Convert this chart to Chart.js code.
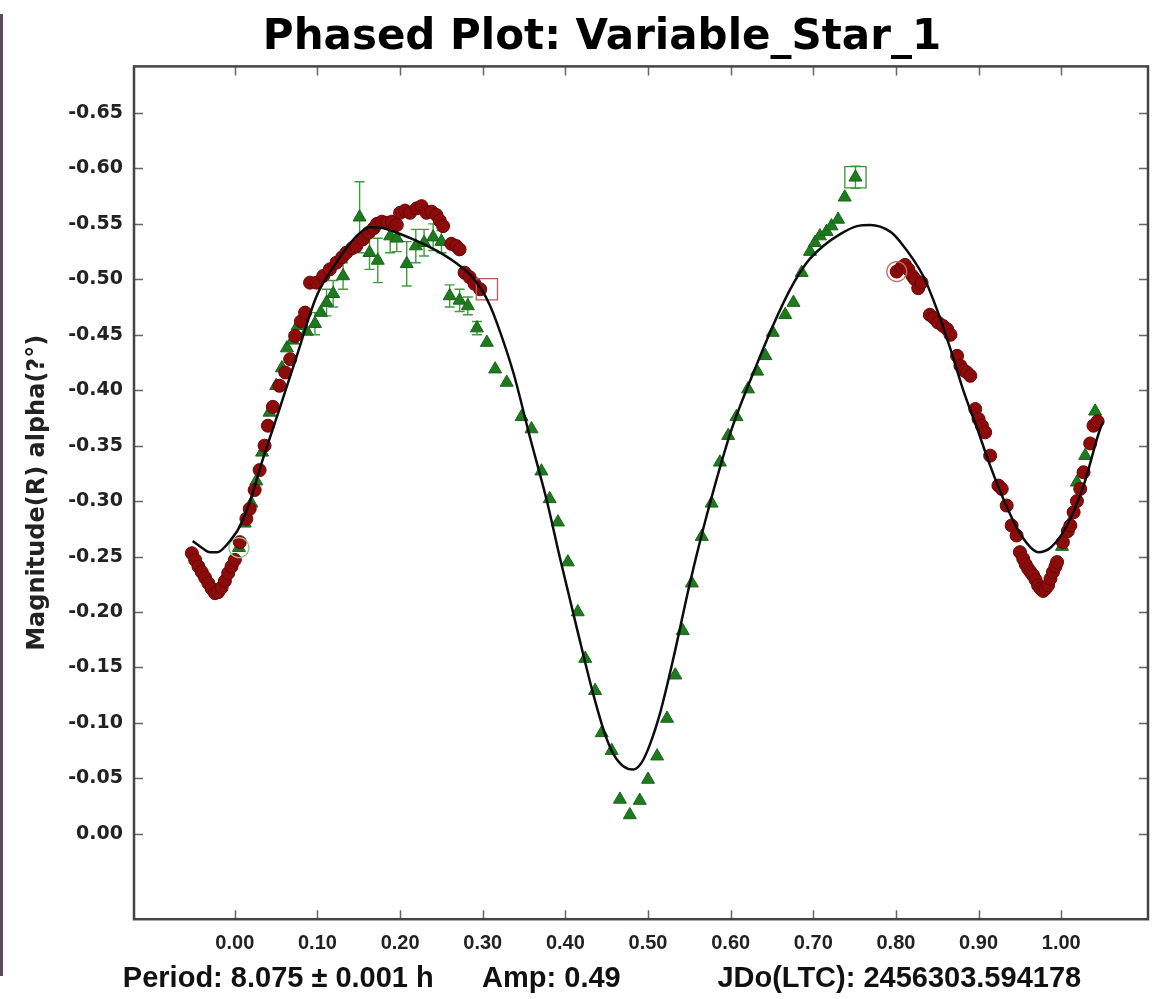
<!DOCTYPE html>
<html>
<head>
<meta charset="utf-8">
<title>Phased Plot: Variable_Star_1</title>
<script src="https://cdn.jsdelivr.net/npm/chart.js"></script>
<style>
  html, body { margin: 0; padding: 0; background: #fff; }
  #wrap { position: relative; width: 1173px; height: 999px; }
  #edge { position: absolute; left: 0; top: 14px; width: 3px; height: 962px; background: #5e4a56; }
  canvas { display: block; }
</style>
</head>
<body>
<div id="wrap">
  <canvas id="phaseChart" width="1173" height="999"></canvas>
  <div id="edge"></div>
</div>
<script>
/* ==============================
   DATA (phase / magnitude)
============================== */
const xTicks = [0, 0.1, 0.2, 0.3, 0.4, 0.5, 0.6, 0.7, 0.8, 0.9, 1.0];
const yTicks = [-0.65, -0.6, -0.55, -0.5, -0.45, -0.4, -0.35, -0.3, -0.25, -0.2, -0.15, -0.1, -0.05, 0];

// session 1 (red circles)
const redPhase = [
  -0.052, -0.048, -0.044, -0.040, -0.036, -0.032, -0.028, -0.024, -0.020, -0.016,
  -0.012, -0.008, -0.004, 0.000, 0.006, 0.014, 0.018, 0.024, 0.030, 0.036,
  0.040, 0.046, 0.054, 0.061, 0.067, 0.073, 0.080, 0.085, 0.091, 0.099,
  0.107, 0.115, 0.123, 0.130, 0.135, 0.142, 0.147, 0.155, 0.162, 0.168,
  0.172, 0.178, 0.184, 0.190, 0.196, 0.200, 0.206, 0.212, 0.220, 0.226,
  0.232, 0.238, 0.244, 0.248, 0.252, 0.262, 0.268, 0.272, 0.278, 0.284,
  0.290, 0.297,
  0.801, 0.807, 0.811, 0.815, 0.820, 0.823, 0.827, 0.831, 0.841, 0.846,
  0.851, 0.857, 0.862, 0.866, 0.874, 0.878, 0.882, 0.886, 0.890, 0.896,
  0.900, 0.904, 0.908, 0.914, 0.924, 0.928, 0.934, 0.940, 0.946, 0.950,
  0.954, 0.957, 0.960, 0.963, 0.966, 0.969, 0.972, 0.975, 0.978, 0.981,
  0.984, 0.987, 0.990, 0.993, 0.995, 1.002, 1.008, 1.011, 1.015, 1.019,
  1.023, 1.027, 1.035, 1.039, 1.044
];
const redMag = [
  -0.253, -0.247, -0.241, -0.236, -0.231, -0.226, -0.221, -0.217, -0.218, -0.222,
  -0.228, -0.235, -0.241, -0.247, -0.263, -0.284, -0.293, -0.310, -0.328, -0.350,
  -0.368, -0.385, -0.404, -0.416, -0.428, -0.449, -0.462, -0.470, -0.497, -0.497,
  -0.503, -0.509, -0.515, -0.520, -0.524, -0.528, -0.530, -0.536, -0.542, -0.546,
  -0.550, -0.552, -0.551, -0.552, -0.549, -0.560, -0.562, -0.560, -0.564, -0.566,
  -0.560, -0.561, -0.558, -0.553, -0.548, -0.532, -0.530, -0.527, -0.506, -0.502,
  -0.496, -0.491,
  -0.507, -0.511, -0.513, -0.509, -0.503, -0.500, -0.492, -0.497, -0.468, -0.465,
  -0.461, -0.458, -0.455, -0.450, -0.431, -0.422, -0.418, -0.416, -0.413, -0.383,
  -0.374, -0.368, -0.362, -0.341, -0.314, -0.311, -0.296, -0.278, -0.269, -0.254,
  -0.248, -0.243, -0.239, -0.236, -0.233, -0.229, -0.224, -0.221, -0.219, -0.221,
  -0.224, -0.230, -0.236, -0.241, -0.245, -0.263, -0.273, -0.278, -0.290, -0.300,
  -0.311, -0.326, -0.352, -0.368, -0.372
];

// session 2 (green triangles)
const greenPhase = [
  0.005, 0.012, 0.020, 0.026, 0.033, 0.042, 0.050, 0.057, 0.063, 0.070,
  0.076, 0.087, 0.097, 0.104, 0.111, 0.119, 0.131, 0.151, 0.163, 0.173,
  0.188, 0.196, 0.208, 0.219, 0.229, 0.240, 0.250, 0.260, 0.272, 0.282,
  0.293, 0.305, 0.315, 0.329, 0.347, 0.359, 0.371, 0.381, 0.391, 0.403,
  0.415, 0.424, 0.436, 0.444, 0.456, 0.466, 0.478, 0.490, 0.500, 0.511,
  0.523, 0.533, 0.542, 0.553, 0.565, 0.577, 0.587, 0.597, 0.607, 0.621,
  0.632, 0.642, 0.651, 0.666, 0.676, 0.686, 0.696, 0.702, 0.708, 0.716,
  0.722, 0.730, 0.738, 0.751,
  1.001, 1.011, 1.019, 1.029, 1.041
];
const greenMag = [
  -0.258, -0.280, -0.298, -0.318, -0.344, -0.380, -0.404, -0.420, -0.438, -0.445,
  -0.458, -0.453, -0.460, -0.470, -0.479, -0.487, -0.503, -0.556, -0.524, -0.517,
  -0.539, -0.537, -0.514, -0.530, -0.533, -0.538, -0.534, -0.485, -0.481, -0.476,
  -0.456, -0.443, -0.419, -0.407, -0.376, -0.365, -0.327, -0.302, -0.281, -0.245,
  -0.200, -0.158, -0.129, -0.091, -0.075, -0.031, -0.017, -0.030, -0.049, -0.070,
  -0.104, -0.143, -0.183, -0.226, -0.268, -0.298, -0.335, -0.359, -0.376, -0.401,
  -0.417, -0.431, -0.452, -0.468, -0.479, -0.506, -0.525, -0.533, -0.539, -0.543,
  -0.548, -0.554, -0.574, -0.592,
  -0.259, -0.281, -0.317, -0.341, -0.381
];

// green error bars (half size in mag)
const errPhase = [0.097, 0.111, 0.119, 0.131, 0.151, 0.163, 0.173, 0.188, 0.196, 0.208,
  0.219, 0.229, 0.240, 0.250, 0.260, 0.272, 0.282, 0.293, 0.751];
const errMag = [-0.460, -0.479, -0.487, -0.503, -0.556, -0.524, -0.517, -0.539, -0.537, -0.514,
  -0.530, -0.533, -0.538, -0.534, -0.485, -0.481, -0.476, -0.456, -0.592];
const errSize = [0.010, 0.012, 0.012, 0.012, 0.032, 0.015, 0.020, 0.015, 0.012, 0.020,
  0.015, 0.012, 0.012, 0.010, 0.010, 0.010, 0.008, 0.006, 0.010];

// marked first / last points of each session
const boxPhase = [0.305, 0.751];
const boxMag = [-0.491, -0.592];
const ringPhase = [0.801, 0.005];
const ringMag = [-0.507, -0.258];

// Fourier fit (black line)
const fitPhase = [
  -0.051, -0.040, -0.030, -0.021, -0.013, -0.006, 0.006, 0.018, 0.034, 0.054,
  0.075, 0.099, 0.123, 0.140, 0.155, 0.163, 0.180, 0.196, 0.216, 0.236,
  0.253, 0.269, 0.285, 0.300, 0.309, 0.317, 0.337, 0.357, 0.378, 0.393,
  0.414, 0.433, 0.447, 0.458, 0.470, 0.482, 0.492, 0.502, 0.515, 0.530, 0.551,
  0.571, 0.599, 0.611, 0.632, 0.651, 0.672, 0.692, 0.712, 0.733, 0.753,
  0.769, 0.793, 0.805, 0.833, 0.850, 0.866, 0.881, 0.898, 0.914, 0.930,
  0.947, 0.962, 0.972, 0.987, 1.007, 1.027, 1.047, 1.051
];
const fitMag = [
  -0.264, -0.258, -0.254, -0.254, -0.258, -0.264, -0.277, -0.299, -0.338, -0.383,
  -0.431, -0.485, -0.515, -0.533, -0.544, -0.547, -0.546, -0.542, -0.536, -0.529,
  -0.522, -0.514, -0.504, -0.489, -0.476, -0.461, -0.416, -0.358, -0.299, -0.250,
  -0.185, -0.128, -0.092, -0.072, -0.061, -0.058, -0.064, -0.080, -0.110, -0.156, -0.227,
  -0.287, -0.360, -0.385, -0.424, -0.458, -0.491, -0.515, -0.530, -0.541, -0.548,
  -0.549, -0.543, -0.534, -0.503, -0.472, -0.437, -0.401, -0.366, -0.332, -0.302,
  -0.275, -0.259, -0.254, -0.258, -0.278, -0.314, -0.365, -0.372
];

const footText = "Period: 8.075 ± 0.001 h      Amp: 0.49            JDo(LTC): 2456303.594178";

const toPoints = (xs, ys) => xs.map((x, i) => ({ x: x, y: ys[i] }));

/* ==============================
   PLUGINS (error bars, frame + inward ticks)
============================== */
const errorBars = {
  id: "errorBars",
  beforeDatasetsDraw(chart) {
    const { ctx, scales: { x, y } } = chart;
    ctx.save();
    ctx.strokeStyle = "#3f9a3f";
    ctx.lineWidth = 1.4;
    ctx.beginPath();
    errPhase.forEach((p, i) => {
      const px = x.getPixelForValue(p);
      const top = y.getPixelForValue(errMag[i] - errSize[i]);
      const bot = y.getPixelForValue(errMag[i] + errSize[i]);
      ctx.moveTo(px, top); ctx.lineTo(px, bot);
      ctx.moveTo(px - 5, top); ctx.lineTo(px + 5, top);
      ctx.moveTo(px - 5, bot); ctx.lineTo(px + 5, bot);
    });
    ctx.stroke();
    ctx.restore();
  },
};

const frameTicks = {
  id: "frameTicks",
  afterDraw(chart) {
    const { ctx, chartArea: a, scales: { x, y } } = chart;
    ctx.save();
    ctx.strokeStyle = "#666";
    ctx.lineWidth = 1.5;
    ctx.beginPath();
    xTicks.forEach((v) => {
      const px = Math.round(x.getPixelForValue(v)) + 0.5;
      ctx.moveTo(px, a.bottom); ctx.lineTo(px, a.bottom - 9);
      ctx.moveTo(px, a.top); ctx.lineTo(px, a.top + 9);
    });
    yTicks.forEach((v) => {
      const py = Math.round(y.getPixelForValue(v)) + 0.5;
      ctx.moveTo(a.left, py); ctx.lineTo(a.left + 9, py);
      ctx.moveTo(a.right, py); ctx.lineTo(a.right - 9, py);
    });
    ctx.stroke();
    ctx.strokeStyle = "#444";
    ctx.lineWidth = 2.5;
    ctx.strokeRect(a.left, a.top, a.right - a.left, a.bottom - a.top);
    ctx.restore();
  },
};

/* ==============================
   CHART
============================== */
new Chart(document.getElementById("phaseChart"), {
  type: "scatter",
  data: {
    datasets: [
      {
        label: "Fit",
        type: "line",
        data: toPoints(fitPhase, fitMag),
        borderColor: "#0d0d0d",
        borderWidth: 2.5,
        pointRadius: 0,
        fill: false,
        cubicInterpolationMode: "monotone",
        order: 0,
      },
      {
        label: "Marks",
        data: toPoints(boxPhase, boxMag),
        pointStyle: "rect",
        pointRadius: 15,
        backgroundColor: "rgba(0,0,0,0)",
        borderColor: ["#b85a5a", "#3d8f3d"],
        borderWidth: 1.3,
        order: 1,
      },
      {
        label: "Rings",
        data: toPoints(ringPhase, ringMag),
        pointStyle: "circle",
        pointRadius: 10,
        backgroundColor: "rgba(0,0,0,0)",
        borderColor: ["#c86a6a", "#8cc88c"],
        borderWidth: 1.3,
        order: 1,
      },
      {
        label: "Session 1",
        data: toPoints(redPhase, redMag),
        pointStyle: "circle",
        pointRadius: 6.5,
        backgroundColor: "#8c0c0c",
        borderColor: "#6a0606",
        borderWidth: 1,
        order: 2,
      },
      {
        label: "Session 2",
        data: toPoints(greenPhase, greenMag),
        pointStyle: "triangle",
        pointRadius: 7.5,
        backgroundColor: "#1f7a1f",
        borderColor: "#176417",
        borderWidth: 1,
        order: 3,
      },
    ],
  },
  options: {
    responsive: false,
    animation: false,
    devicePixelRatio: 1,
    layout: { padding: { left: 56, right: 25, top: 0, bottom: 0 } },
    scales: {
      x: {
        type: "linear",
        min: -0.122,
        max: 1.105,
        grid: { display: false, drawTicks: false },
        border: { display: false },
        afterBuildTicks: (s) => { s.ticks = xTicks.map((v) => ({ value: v })); },
        afterFit: (s) => { s.height = 36; },
        ticks: {
          padding: 12,
          color: "#222",
          font: { family: "Liberation Sans", size: 20, weight: "bold" },
          callback: (v) => Number(v).toFixed(2),
        },
      },
      y: {
        type: "linear",
        reverse: true,
        min: -0.692,
        max: 0.077,
        grid: { display: false, drawTicks: false },
        border: { display: false },
        afterBuildTicks: (s) => { s.ticks = yTicks.map((v) => ({ value: v })); },
        afterFit: (s) => { s.width = 78; },
        title: {
          display: true,
          text: "Magnitude(R) alpha(?°)",
          color: "#222",
          padding: { top: -33, bottom: 0 },
          font: { family: "DejaVu Sans", size: 24, weight: "bold" },
        },
        ticks: {
          padding: 11,
          color: "#222",
          font: { family: "DejaVu Sans", size: 19, weight: "bold" },
          callback: (v) => Number(v).toFixed(2),
        },
      },
    },
    plugins: {
      legend: { display: false },
      tooltip: { enabled: false },
      title: {
        display: true,
        text: "Phased Plot: Variable_Star_1",
        color: "#000",
        padding: { top: 13, bottom: 3 },
        font: { family: "DejaVu Sans", size: 42, weight: "bold" },
      },
      subtitle: {
        display: true,
        position: "bottom",
        text: footText,
        color: "#111",
        padding: { top: 6, bottom: 3 },
        font: { family: "Liberation Sans", size: 29, weight: "bold" },
      },
    },
  },
  plugins: [errorBars, frameTicks],
});
</script>
</body>
</html>
